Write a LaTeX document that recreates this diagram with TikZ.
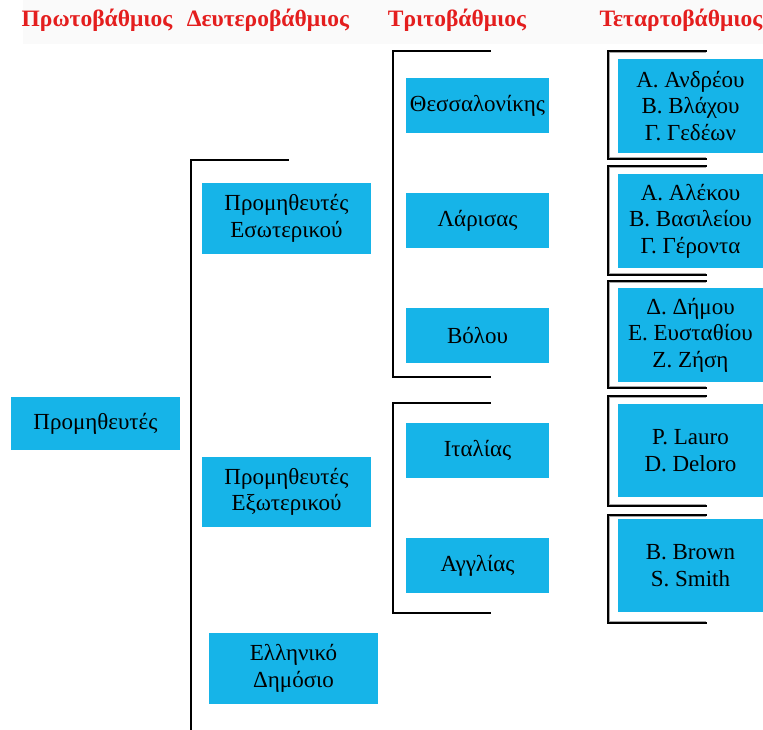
\documentclass[tikz,border=0pt]{standalone}
\usepackage{fontspec}
\setmainfont{Liberation Serif}
\usepackage{xcolor}
\usepackage{tikz}
\usetikzlibrary{positioning}

\definecolor{boxblue}{RGB}{22,180,232}
\definecolor{headred}{RGB}{228,30,30}

\begin{document}
\begin{tikzpicture}[
      x=1pt, y=-1pt,
      box/.style={fill=boxblue, inner sep=0pt, align=center,
        font=\fontsize{23}{26.5}\selectfont},
      colhead/.style={text=headred, inner sep=0pt,
        font=\fontsize{23.5}{26}\selectfont\bfseries},
      brk/.style={line width=2pt, line cap=rect},
      shade/.style={line width=1pt, black!35}]
    \useasboundingbox (0,0) rectangle (763,729);
    \fill[black!2] (23,0) rectangle (763,44);
    % column headings
    \node[colhead] (h1) at (97,20) {Πρωτοβάθμιος};
    \node[colhead] (h2) at (268,20) {Δευτεροβάθμιος};
    \node[colhead] (h3) at (457,20) {Τριτοβάθμιος};
    \node[colhead] (h4) at (681,20) {Τεταρτοβάθμιος};
    % first and second level
    \node[box, minimum width=169, minimum height=53] (prom) at (95.5,423.5) {Προμηθευτές};
    \node[box, minimum width=169, minimum height=71] (esot) at (286.5,218.5) {Προμηθευτές\\Εσωτερικού};
    \node[box, minimum width=169, minimum height=70] (exot) at (286.5,492) {Προμηθευτές\\Εξωτερικού};
    \node[box, minimum width=169, minimum height=71] (dimos) at (293.5,668.5) {Ελληνικό\\Δημόσιο};
    % third level
    \foreach \n/\y/\t in {thess/105.5/Θεσσαλονίκης, lar/220.5/Λάρισας, vol/335.5/Βόλου,
                          ital/450.5/Ιταλίας, angl/565.5/Αγγλίας}
      \node[box, minimum width=143, minimum height=55] (\n) at (477.5,\y) {\t};
    % fourth level
    \node[box, minimum width=145, minimum height=94] (q1) at (690.5,106) {Α. Ανδρέου\\Β. Βλάχου\\Γ. Γεδέων};
    \node[box, minimum width=145, minimum height=94] (q2) at (690.5,221) {Α. Αλέκου\\Β. Βασιλείου\\Γ. Γέροντα};
    \node[box, minimum width=145, minimum height=94] (q3) at (690.5,335) {Δ. Δήμου\\Ε. Ευσταθίου\\Ζ. Ζήση};
    \node[box, minimum width=145, minimum height=93] (q4) at (690.5,450.5) {P. Lauro\\D. Deloro};
    \node[box, minimum width=145, minimum height=93] (q5) at (690.5,565.5) {B. Brown\\S. Smith};
    % brackets
    \draw[brk] (288,160) -- (191,160) -- (191,729);
    \draw[brk] (490,51) -- (393,51) -- (393,377) -- (490,377);
    \draw[brk] (490,403) -- (393,403) -- (393,613) -- (490,613);
    \foreach \t/\b in {51/159,166/275,281/388,396/506,515/623} {
      \draw[shade] (706,\t+1.5) -- (609.5,\t+1.5) -- (609.5,\b-1.5) -- (706,\b-1.5);
      \draw[brk] (706,\t) -- (608,\t) -- (608,\b) -- (706,\b);
    }
  \end{tikzpicture}
\end{document}
